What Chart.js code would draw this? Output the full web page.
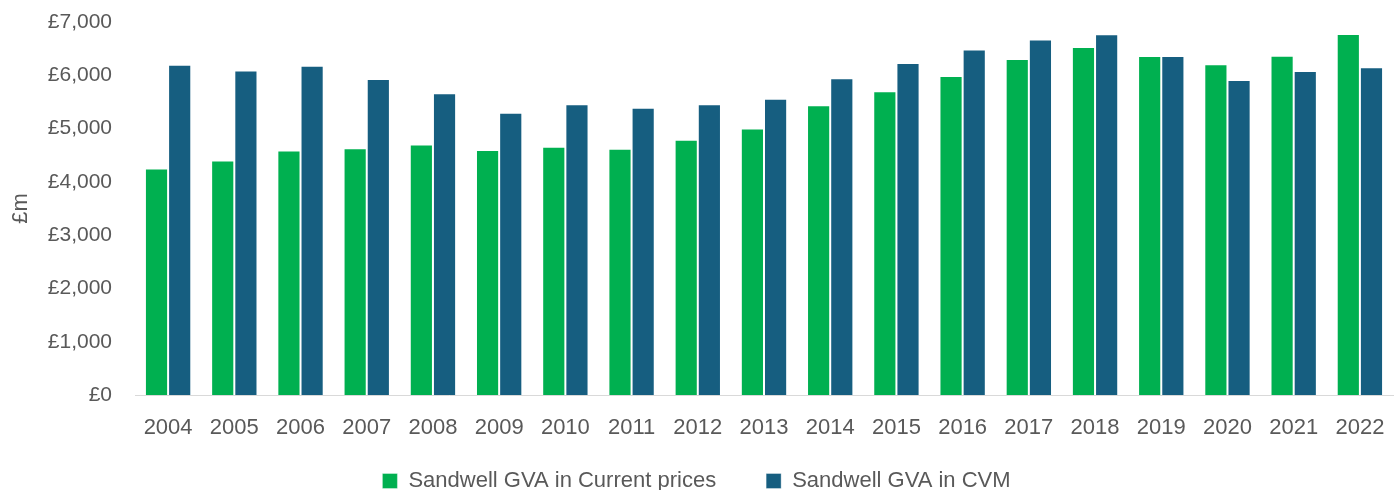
<!DOCTYPE html>
<html>
<head>
<meta charset="utf-8">
<script src="https://cdn.jsdelivr.net/npm/chart.js@4"></script>
<style>
html,body{margin:0;padding:0;background:#fff;}
#wrap{width:1400px;height:490px;}
</style>
</head>
<body>
<div id="wrap"><canvas id="c" width="1400" height="490"></canvas></div>
<script>
const categories = ["2004","2005","2006","2007","2008","2009","2010","2011","2012","2013","2014","2015","2016","2017","2018","2019","2020","2021","2022"];
const currentPrices = [4250,4400,4590,4630,4700,4600,4660,4620,4790,5000,5440,5700,5985,6305,6530,6360,6205,6365,6775];
const cvm = [6200,6090,6180,5930,5665,5295,5455,5390,5455,5560,5945,6230,6485,6670,6770,6360,5910,6080,6150];
const yTicks = [0,1000,2000,3000,4000,5000,6000,7000];
const seriesNames = ["Sandwell GVA in Current prices","Sandwell GVA in CVM"];

const FONT = "'Liberation Sans', Arial, sans-serif";
const TXT = "#595959";

new Chart(document.getElementById('c'), {
  type: 'bar',
  data: {
    labels: categories,
    datasets: [
      {label: seriesNames[0], data: currentPrices, backgroundColor: '#00B050', borderColor: 'rgba(255,255,255,0.35)', borderWidth: 1},
      {label: seriesNames[1], data: cvm, backgroundColor: '#165E80', borderColor: 'rgba(255,255,255,0.35)', borderWidth: 1}
    ]
  },
  options: {
    responsive: false,
    animation: false,
    devicePixelRatio: 1,
    layout: {padding: {top: 22, right: 7, left: 0, bottom: -12}},
    datasets: {bar: {categoryPercentage: 0.7, barPercentage: 1.0}},
    scales: {
      x: {
        grid: {display: false},
        border: {display: true, color: '#d9d9d9', width: 1},
        ticks: {color: TXT, font: {family: FONT, size: 22}, padding: 12, maxRotation: 0},
        afterFit: s => { s.height = 25; s._computeLabelArea = () => undefined; }
      },
      y: {
        min: 0, max: 7000,
        afterBuildTicks: s => { s.ticks = yTicks.map(v => ({value: v})); },
        grid: {display: false},
        border: {display: false},
        ticks: {color: TXT, font: {family: FONT, size: 21}, padding: 15,
          callback: v => '£' + Number(v).toLocaleString('en-GB')},
        title: {display: true, text: '£m', color: TXT, font: {family: FONT, size: 22}, padding: {top: 8, bottom: 0}},
        afterFit: s => { s.width = 135; s.paddingTop = 0; }
      }
    },
    plugins: {
      legend: {
        position: 'bottom',
        labels: {color: TXT, font: {family: FONT, size: 22}, boxWidth: 15, boxHeight: 15, padding: 50, useBorderRadius: false}
      },
      tooltip: {enabled: false}
    }
  }
});
</script>
</body>
</html>
